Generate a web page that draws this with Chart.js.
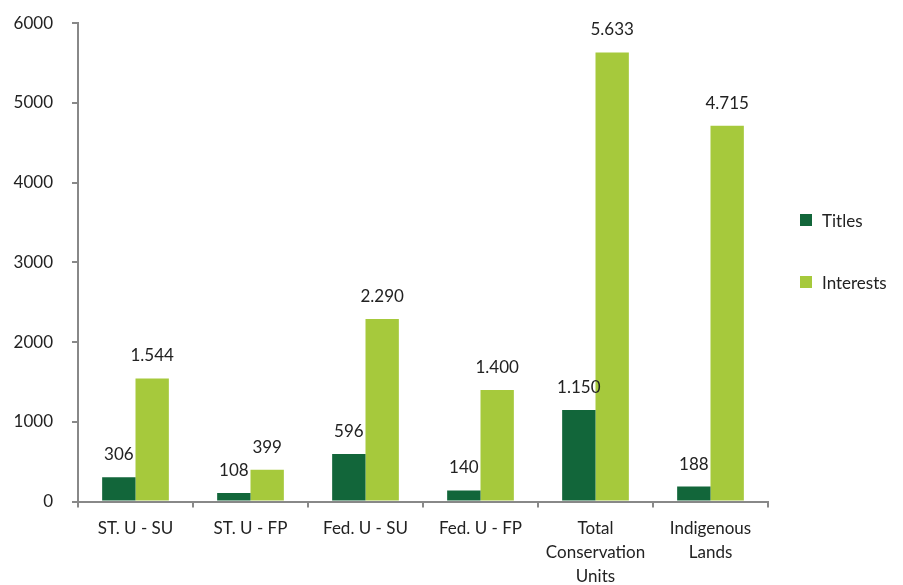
<!DOCTYPE html>
<html>
<head>
<meta charset="utf-8">
<script src="https://cdn.jsdelivr.net/npm/chart.js@4"></script>
<style>
    body { margin: 0; background: #fff; }
    #wrap { position: relative; width: 903px; height: 585px; overflow: hidden; }
    #myChart { position: absolute; left: 0; top: -6px; }
    #legend { position: absolute; left: 800px; top: 208px; font-family: Lato, sans-serif; font-size: 17px; color: #222; }
    .item { display: flex; align-items: center; height: 24px; margin-bottom: 38px; }
    .box { width: 12px; height: 12px; margin-right: 10px; }
</style>
</head>
<body>
<div id="wrap">
    <canvas id="myChart" width="903" height="603"></canvas>
    <div id="legend"></div>
</div>
<script>
let categories = ['ST. U - SU', 'ST. U - FP', 'Fed. U - SU', 'Fed. U - FP', ['Total', 'Conservation', 'Units'], ['Indigenous', 'Lands']];
let titles = [306, 108, 596, 140, 1150, 188];
let interests = [1544, 399, 2290, 1400, 5633, 4715];
let seriesNames = ['Titles', 'Interests'];
let seriesColors = ['#12663a', '#a6c93c'];
let yTicks = [0, 1000, 2000, 3000, 4000, 5000, 6000];


function formatValue(v) {
    return v.toString().replace(/\B(?=(\d{3})+(?!\d))/g, '.');
}


const valueLabels = {
    id: 'valueLabels',
    afterDatasetsDraw(chart) {
        let ctx = chart.ctx;
        ctx.save();
        ctx.font = '17px Lato';
        ctx.fillStyle = '#222';
        ctx.textAlign = 'center';
        ctx.textBaseline = 'bottom';
        chart.data.datasets.forEach((ds, d) => {
            chart.getDatasetMeta(d).data.forEach((bar, i) => {
                ctx.fillText(formatValue(ds.data[i]), bar.x, bar.y - 14);
            });
        });
        ctx.restore();
    }
};


function buildLegend() {
    let html = '';
    for (let i = 0; i < seriesNames.length; i++) {
        html += `<div class="item"><div class="box" style="background:${seriesColors[i]}"></div>${seriesNames[i]}</div>`;
    }
    document.getElementById('legend').innerHTML = html;
}


new Chart(document.getElementById('myChart'), {
    type: 'bar',
    data: {
        labels: categories,
        datasets: [
            { label: seriesNames[0], data: titles, backgroundColor: seriesColors[0] },
            { label: seriesNames[1], data: interests, backgroundColor: seriesColors[1] }
        ]
    },
    options: {
        responsive: false,
        animation: false,
        layout: { padding: { top: 8, right: 135, left: 12, bottom: 0 } },
        datasets: { bar: { categoryPercentage: 0.58, barPercentage: 1 } },
        plugins: { legend: { display: false }, tooltip: { enabled: false } },
        scales: {
            x: {
                grid: { drawOnChartArea: false, tickLength: 6, color: '#888', lineWidth: 2 },
                border: { color: '#888', width: 2 },
                ticks: { color: '#222', font: { family: 'Lato', size: 17, lineHeight: 1.4 }, padding: 9, maxRotation: 0, autoSkip: false }
            },
            y: {
                min: 0,
                max: 6000,
                afterBuildTicks: (axis) => { axis.ticks = yTicks.map(v => ({ value: v })); },
                afterFit: (axis) => { axis.width = 66; },
                grid: { drawOnChartArea: false, tickLength: 6, color: '#888', lineWidth: 2 },
                border: { color: '#888', width: 2 },
                ticks: { color: '#222', font: { family: 'Lato', size: 17 }, padding: 19, callback: (v) => String(v) }
            }
        }
    },
    plugins: [valueLabels]
});

buildLegend();
</script>
</body>
</html>
